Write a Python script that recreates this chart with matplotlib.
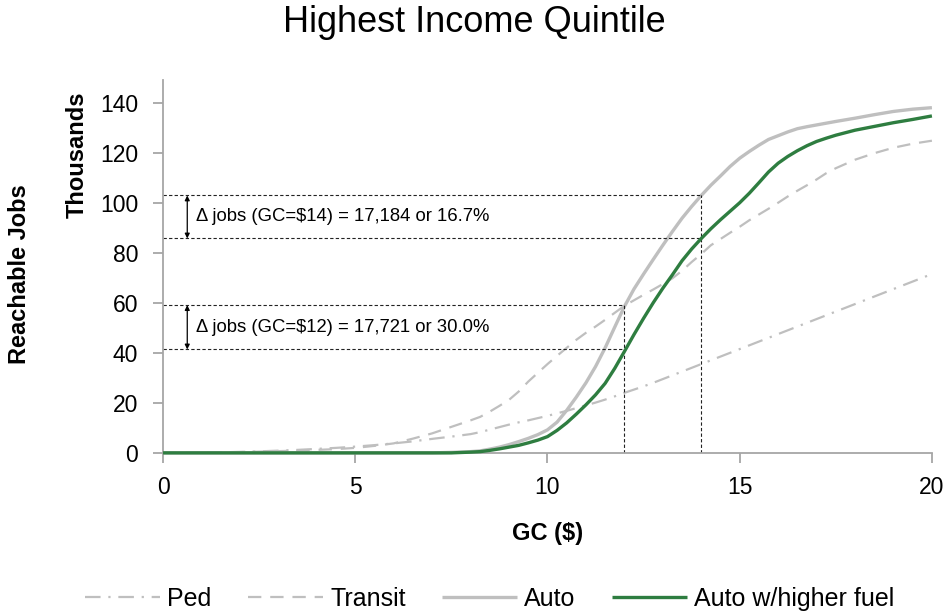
import matplotlib
matplotlib.use("Agg")
import matplotlib.pyplot as plt
import numpy as np

plt.rcParams['font.family'] = ['Liberation Sans', 'DejaVu Sans']

# generalized cost ($): coarse at the ends, finer through the steep part
gc = np.concatenate([np.arange(0, 8.01, 0.5),
                     np.arange(8.25, 17.51, 0.25),
                     np.arange(18, 20.01, 0.5)])

# reachable jobs (thousands)
ped = [0, 0, 0.1, 0.2, 0.4, 0.6, 0.9, 1.2, 1.6, 2.0, 2.5, 3.1, 3.8, 4.6, 5.6, 6.5, 7.5,
       8.3, 9.3, 10.3, 11.3, 12.2, 13.0, 13.9, 14.8, 15.8, 16.8, 17.9, 19.0,
       20.1, 21.3, 22.6, 24.0, 25.3, 26.6, 28.0, 29.5, 31.0, 32.5, 34.0, 35.5,
       37.0, 38.5, 40.0, 41.5, 43.0, 44.5, 46.0, 47.5, 49.0, 50.5, 52.0, 53.5,
       55.0, 56.5,
       59.5, 62.5, 65.5, 68.5, 71.5]
transit = [0, 0, 0.1, 0.2, 0.3, 0.5, 0.7, 0.9, 1.2, 1.5, 2.0, 2.8, 3.8, 5.7, 7.8, 10.4, 13.0,
           14.4, 16.5, 18.8, 21.2, 24.5, 28.5, 32.0, 35.5, 38.8, 42.0, 45.2, 48.0,
           50.5, 53.2, 56.0, 58.8, 61.0, 63.2, 65.3, 67.5, 69.8, 72.8, 76.3, 79.5,
           83.0, 85.5, 88.0, 90.4, 93.0, 95.3, 97.6, 100.0, 102.5, 104.8, 107.0, 109.3,
           111.8, 113.8,
           117.2, 119.8, 122.0, 123.6, 124.8]
auto = [0, 0, 0, 0, 0, 0, 0, 0, 0, 0, 0, 0, 0, 0, 0, 0.2, 0.5,
        0.8, 1.5, 2.3, 3.3, 4.5, 5.8, 7.3, 9.2, 12.3, 17.0, 22.3, 28.0,
        34.5, 42.0, 50.3, 58.5, 65.5, 71.5, 77.3, 83.0, 88.5, 93.8, 98.5, 102.9,
        107.0, 110.7, 114.5, 117.8, 120.5, 123.0, 125.3, 126.8, 128.3, 129.6, 130.4, 131.1,
        131.8, 132.5,
        133.8, 135.2, 136.5, 137.4, 138.0]
auto_fuel = [0, 0, 0, 0, 0, 0, 0, 0, 0, 0, 0, 0, 0, 0, 0, 0, 0.3,
             0.5, 1.0, 1.6, 2.3, 3.0, 4.0, 5.1, 6.5, 9.0, 12.0, 15.5, 19.2,
             23.2, 27.8, 33.8, 40.5, 47.3, 53.8, 60.0, 65.8, 71.2, 76.8, 81.5, 85.7,
             89.6, 93.2, 96.6, 100.0, 103.8, 108.0, 112.3, 115.8, 118.5, 120.8, 122.8, 124.5,
             125.8, 127.0,
             129.0, 130.5, 132.0, 133.3, 134.7]

# annotation values (thousands)
gc_marks = [12, 14]
auto_at = [59.07, 102.90]
fuel_at = [41.35, 85.72]
notes = ["\u0394 jobs (GC=$12) = 17,721 or 30.0%",
         "\u0394 jobs (GC=$14) = 17,184 or 16.7%"]

grey = '#BFBFBF'
green = '#2E7D40'
axis_grey = '#A6A6A6'

fig = plt.figure(figsize=(9.49, 6.12), dpi=100)
ax = fig.add_axes([0.1718, 0.26, 0.8102, 0.609])

ax.plot(gc, ped, color=grey, lw=1.6, linestyle=(0, (7, 3.5, 1, 3.5)),
        label='Ped', clip_on=False)
ax.plot(gc, transit, color=grey, lw=1.6, linestyle=(0, (6, 4)),
        label='Transit', clip_on=False)
ax.plot(gc, auto, color=grey, lw=2.4, label='Auto', clip_on=False,
        solid_capstyle='butt', solid_joinstyle='round')
ax.plot(gc, auto_fuel, color=green, lw=2.4, label='Auto w/higher fuel',
        clip_on=False, zorder=5, solid_capstyle='butt', solid_joinstyle='round')

# guide lines and arrows
for g, a, f, t in zip(gc_marks, auto_at, fuel_at, notes):
    ax.plot([0, g], [a, a], color='#222222', lw=0.8, linestyle=(0, (3, 2)))
    ax.plot([0, g], [f, f], color='#222222', lw=0.8, linestyle=(0, (3, 2)))
    ax.plot([g, g], [0, a], color='#222222', lw=0.8, linestyle=(0, (3, 2)))
    ax.annotate('', xy=(0.63, a), xytext=(0.63, f),
                arrowprops=dict(arrowstyle='<|-|>', color='black', lw=0.9,
                                mutation_scale=7, shrinkA=0, shrinkB=0))
    ax.text(0.86, (a + f) / 2, t, fontsize=13.3, va='center', ha='left')

ax.set_xlim(0, 20)
ax.set_ylim(0, 149)
ax.set_xticks([0, 5, 10, 15, 20])
ax.set_yticks(np.arange(0, 141, 20))
for s in ['top', 'right']:
    ax.spines[s].set_visible(False)
for s in ['left', 'bottom']:
    ax.spines[s].set_color(axis_grey)
    ax.spines[s].set_linewidth(1.3)
ax.tick_params(axis='both', colors=axis_grey, length=7, width=1.3,
               labelsize=16.5, labelcolor='black')
ax.tick_params(axis='x', pad=10)
ax.tick_params(axis='y', pad=11)

ax.set_xlabel('GC ($)', fontsize=17, fontweight='bold', labelpad=16)
fig.text(0.021, 0.552, 'Reachable Jobs', rotation=90, fontsize=17,
         fontweight='bold', ha='center', va='center')
fig.text(0.081, 0.747, 'Thousands', rotation=90, fontsize=17,
         fontweight='bold', ha='center', va='center')
fig.suptitle('Highest Income Quintile', fontsize=26, y=0.964, va='center')

fig.legend(loc='center', bbox_to_anchor=(0.516, 0.022), ncol=4, frameon=False,
           fontsize=18, handlelength=3.0, handletextpad=0.3,
           columnspacing=1.45)

fig.savefig('out.png', dpi=100)
